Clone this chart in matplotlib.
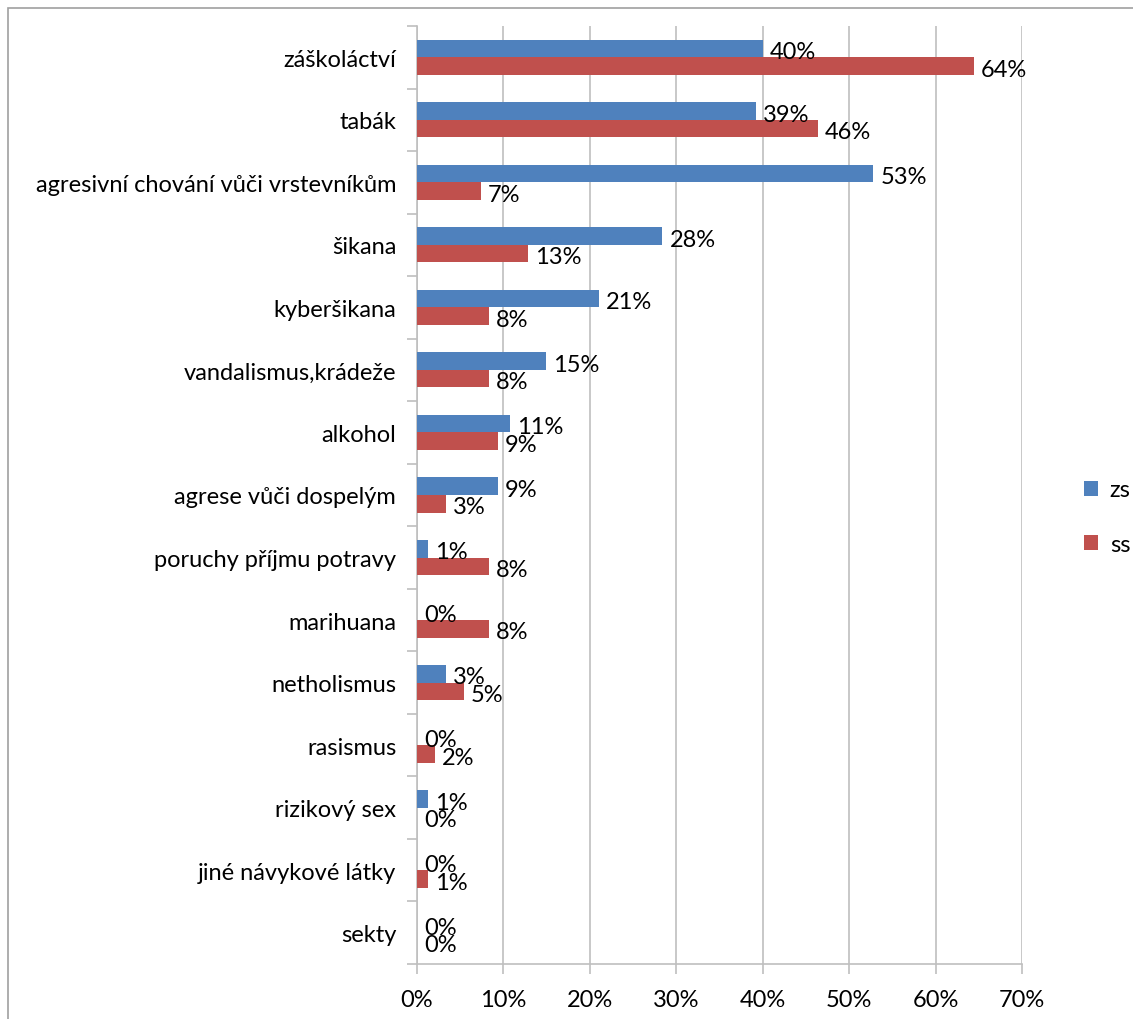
import matplotlib
matplotlib.use("Agg")
import matplotlib.pyplot as plt
from matplotlib.patches import Rectangle
import numpy as np

categories = [
    "záškoláctví", "tabák", "agresivní chování vůči vrstevníkům", "šikana",
    "kyberšikana", "vandalismus,krádeže", "alkohol", "agrese vůči dospelým",
    "poruchy příjmu potravy", "marihuana", "netholismus", "rasismus",
    "rizikový sex", "jiné návykové látky", "sekty",
]
zs = [0.400, 0.392, 0.528, 0.284, 0.210, 0.149, 0.108, 0.094,
      0.013, 0.0, 0.034, 0.0, 0.013, 0.0, 0.0]
ss = [0.644, 0.464, 0.074, 0.128, 0.083, 0.083, 0.094, 0.034,
      0.083, 0.083, 0.054, 0.021, 0.0, 0.013, 0.0]
xticks = [0, 0.1, 0.2, 0.3, 0.4, 0.5, 0.6, 0.7]

BLUE = "#4F81BD"
RED = "#C0504D"
GRID = "#BFBFBF"
FS = 17

plt.rcParams["font.family"] = ["Lato", "DejaVu Sans"]

fig = plt.figure(figsize=(11.33, 10.2), dpi=100)
ax = fig.add_axes([417 / 1133, 1 - 965 / 1020, (1022 - 417) / 1133, (965 - 27) / 1020])

# chart frame (right/bottom edge runs off the image)
fig.patches.append(Rectangle((8 / 1133, -0.1), 1.2, 1 - 9 / 1020 + 0.1,
                             transform=fig.transFigure, fill=False,
                             edgecolor="#A0A0A0", linewidth=1.2))

n = len(categories)
y = np.arange(n)
h = 0.28
ax.barh(y - h / 2, zs, height=h, color=BLUE, label="zs", zorder=3)
ax.barh(y + h / 2, ss, height=h, color=RED, label="ss", zorder=3)

for yi, v in zip(y, zs):
    ax.annotate(f"{v:.0%}", (v, yi - h / 2 + 0.05), xytext=(5, 0),
                textcoords="offset points", ha="left", va="center", fontsize=FS)
for yi, v in zip(y, ss):
    ax.annotate(f"{v:.0%}", (v, yi + h / 2 + 0.05), xytext=(5, 0),
                textcoords="offset points", ha="left", va="center", fontsize=FS)

ax.set_ylim(n - 0.5, -0.5)
ax.set_xlim(0, 0.7)
ax.set_xticks(xticks)
ax.set_xticklabels([f"{t:.0%}" for t in xticks], fontsize=FS)
ax.set_yticks(y)
ax.set_yticklabels(categories, fontsize=FS)
ax.set_yticks(np.arange(n + 1) - 0.5, minor=True)
ax.tick_params(axis="y", which="major", length=0, pad=15)
ax.tick_params(axis="y", which="minor", length=7, color=GRID, width=1.2)
ax.tick_params(axis="x", length=7, color=GRID, width=1.2, pad=11)

ax.grid(axis="x", color=GRID, linewidth=1.2, zorder=0)
for s in ["top", "right"]:
    ax.spines[s].set_visible(False)
for s in ["left", "bottom"]:
    ax.spines[s].set_color(GRID)
    ax.spines[s].set_linewidth(1.2)

fig.legend(loc="center left", bbox_to_anchor=(1072 / 1133, 1 - 518 / 1020),
           frameon=False, fontsize=FS, handlelength=0.6, handleheight=0.6,
           labelspacing=1.4, handletextpad=0.5, borderpad=0)

fig.savefig("out.png", dpi=100)
